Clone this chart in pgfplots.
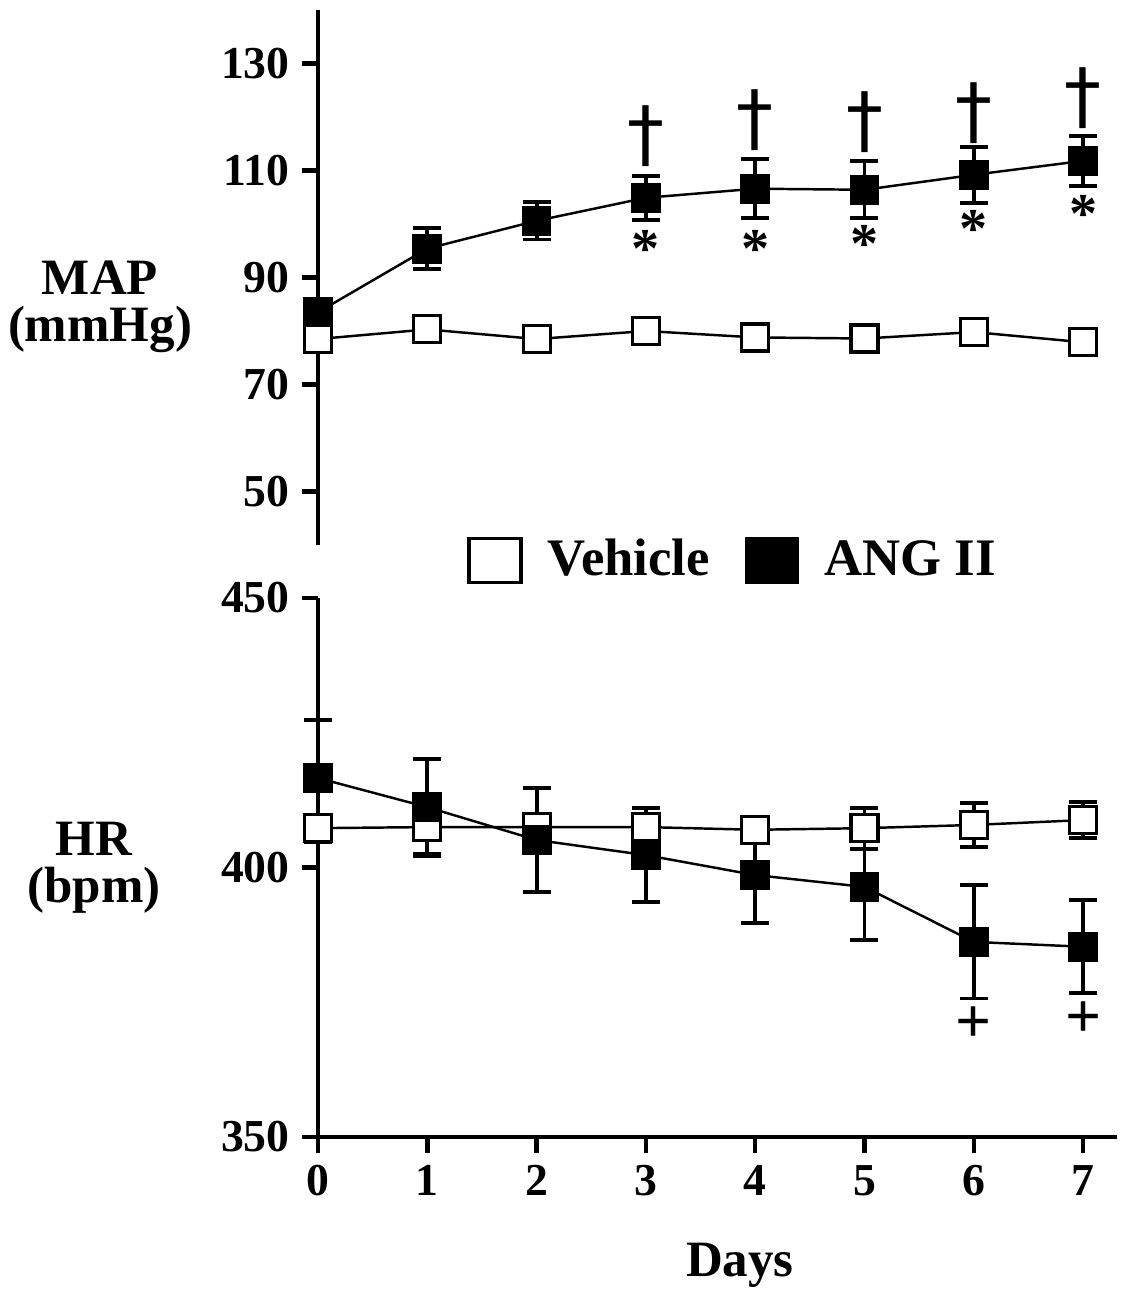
\documentclass[border=0pt]{standalone}
\usepackage{fontspec}
\setmainfont{Liberation Serif}
\newfontfamily\djv{DejaVu Sans}
\usepackage{pgfplots}
\pgfplotsset{compat=1.18}

\pgfplotsset{
  panel/.style={scale only axis, width=79.9mm, xmin=0, xmax=7.31, clip=false,
    axis line style={line width=1.3pt,-}, tick style={line width=1.3pt,black},
    major tick length=1.6mm, tick align=outside,
    tick label style={font=\fontsize{13}{13}\selectfont\bfseries},
    /pgf/number format/assume math mode=true},
  angii/.style={black, line width=0.7pt, mark=square*, mark size=1.35mm,
    mark options={solid, fill=black, line width=0.8pt},
    error bars/.cd, y dir=both, y explicit,
    error bar style={line width=1.1pt},
    error mark options={rotate=90, mark size=1.4mm, line width=1.1pt}},
  vehicle/.style={black, line width=0.7pt, mark=square*, mark size=1.35mm,
    mark options={solid, fill=white, line width=0.9pt},
    error bars/.cd, y dir=both, y explicit,
    error bar style={line width=1.1pt},
    error mark options={rotate=90, mark size=1.4mm, line width=1.1pt}},
}
\newcommand{\bdag}{{\djv\fontsize{21}{21}\selectfont †}}

\begin{document}
\begin{tikzpicture}
\useasboundingbox (-31.8mm,54.5mm) rectangle (80.3mm,-74.7mm);

% MAP panel
\begin{axis}[panel, at={(0,0)}, anchor=south west, height=53.5mm,
  ymin=40, ymax=140, ytick={50,70,90,110,130},
  axis x line=none, axis y line*=left]
 \addplot[vehicle] table[x=d, y=m, y error=e] {
  d m e
  0 78.5 2
  1 80.3 2
  2 78.5 2
  3 80.0 2
  4 78.8 2
  5 78.6 2
  6 79.8 2
  7 77.9 2
 };
 \addplot[angii] table[x=d, y=m, y error=e] {
  d m e
  0 83.5 1.5
  1 95.4 3.8
  2 100.6 3.5
  3 104.9 4.1
  4 106.6 5.5
  5 106.4 5.3
  6 109.2 5.2
  7 111.8 4.7
 };
 \node at (axis cs:3,116.5) {\bdag};
 \node at (axis cs:4,119.4) {\bdag};
 \node at (axis cs:5,119.0) {\bdag};
 \node at (axis cs:6,120.8) {\bdag};
 \node at (axis cs:7,123.6) {\bdag};
 \foreach \d/\v in {3/95.4, 4/95.4, 5/96.3, 6/99.1, 7/101.9}
   {\edef\tmp{\noexpand\node[font=\noexpand\fontsize{16}{16}\noexpand\selectfont\noexpand\bfseries] at (axis cs:\d,\v) {*};}\tmp}
 \node[align=center, font=\fontsize{14.5}{13.5}\selectfont\bfseries]
   at ([xshift=-21.8mm]rel axis cs:0,0.445) {MAP\\(mmHg)};
\end{axis}

% HR panel
\begin{axis}[panel, at={(0,-5.3mm)}, anchor=north west, height=53.9mm,
  ymin=350, ymax=450, ytick={350,400,450}, xtick={0,...,7},
  axis x line*=bottom, axis y line*=left,
  legend style={draw=none, fill=none, at={(rel axis cs:0.522,1.07)}, anchor=center,
    legend columns=2, font=\fontsize{15}{15}\selectfont\bfseries,
    /tikz/every odd column/.append style={column sep=1.8mm},
    /tikz/every even column/.append style={column sep=2.8mm}}]
 \addplot[legend image code/.code={\draw[line width=1pt,fill=white] (0mm,-2.2mm) rectangle (5.2mm,2.2mm);}, vehicle]
  table[x=d, y=m, y error=e] {
  d m e
  0 407.3 2.5
  1 407.5 5.0
  2 407.5 2.5
  3 407.5 2.5
  4 407.0 2.0
  5 407.3 3.8
  6 407.9 4.1
  7 408.8 3.3
 };
 \addlegendentry{Vehicle}
 \addplot[legend image code/.code={\fill[black] (0mm,-2.2mm) rectangle (5.2mm,2.2mm);}, angii]
  table[x=d, y=m, y error=e] {
  d m e
  0 416.6 10.8
  1 411.2 9.0
  2 405.1 9.6
  3 402.3 8.7
  4 398.6 8.9
  5 396.4 9.8
  6 386.2 10.5
  7 385.3 8.6
 };
 \addlegendentry{ANG II}
 \node[font=\fontsize{18}{18}\selectfont\bfseries] at (axis cs:6,370.8) {+};
 \node[font=\fontsize{18}{18}\selectfont\bfseries] at (axis cs:7,371.7) {+};
 \node[align=center, font=\fontsize{14.5}{13.5}\selectfont\bfseries]
   at ([xshift=-22.4mm]rel axis cs:0,0.5) {HR\\(bpm)};
 \node[font=\fontsize{14.5}{14.5}\selectfont\bfseries]
   at ([yshift=-12.8mm]rel axis cs:0.528,0) {Days};
\end{axis}
\end{tikzpicture}
\end{document}
